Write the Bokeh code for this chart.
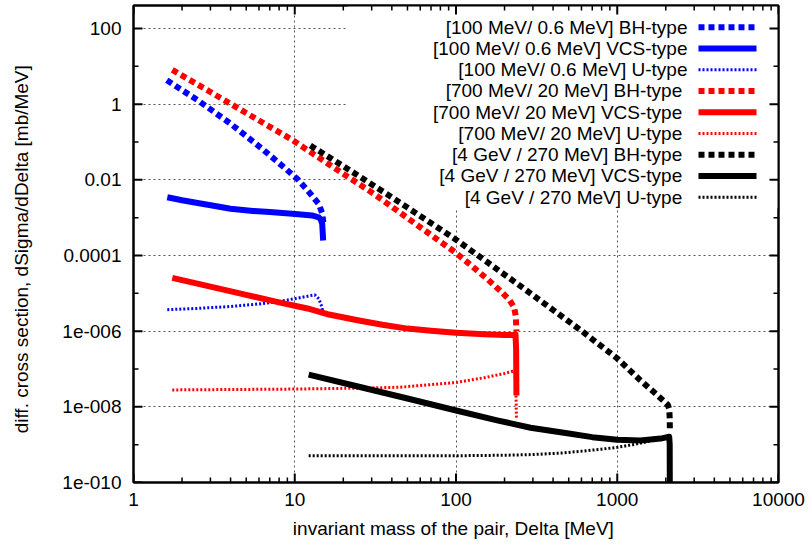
import math
import numpy as np
from bokeh.plotting import figure
from bokeh.models import (FixedTicker, LogAxis, CustomJSTickFormatter, Label, Arrow,
                          BoxAnnotation, Range1d)
from bokeh.embed import file_html
from bokeh.resources import INLINE

# ---------------- data ----------------
blue_bh_x = [1.61, 2.51, 3.98, 6.31, 8.91, 10.5, 12.5, 14.1, 14.8, 15.05]
blue_bh_y = [4.3, 1.26, 0.31, 0.065, 0.0186, 0.010, 0.0043, 0.0023, 1.3e-3, 7.5e-4]

blue_vcs_x = [1.62, 2.0, 2.5, 3.2, 4.0, 5.5, 7.0, 10.1, 12.8, 14.1, 14.5, 14.8, 15.0]
blue_vcs_y = [3.47e-3, 2.88e-3, 2.45e-3, 2.04e-3, 1.72e-3, 1.51e-3, 1.41e-3, 1.26e-3,
              1.15e-3, 1.02e-3, 8.9e-4, 6.9e-4, 2.5e-4]

blue_u_x = [1.62, 2.5, 4.0, 6.0, 8.2, 11.0, 12.5, 13.3, 14.1, 14.7, 15.1]
blue_u_y = [3.7e-6, 4.0e-6, 4.5e-6, 5.25e-6, 6.2e-6, 7.8e-6, 8.7e-6, 9.1e-6, 7.2e-6, 4.5e-6, 2.6e-6]

red_bh_x = [1.74, 3.0, 5.0, 9.4, 17, 30.9, 60, 100, 126, 158, 190, 214, 229, 235, 237]
red_bh_y = [8.1, 2.1, 0.585, 0.122, 0.0229, 4.3e-3, 5.6e-4, 1.17e-4, 5.2e-5, 2.3e-5,
            1.12e-5, 6.8e-6, 4.3e-6, 2.5e-6, 1.0e-6]

red_vcs_x = [1.74, 3.0, 5.0, 8.0, 12.0, 16.3, 25, 35, 50, 70, 100, 150, 200, 228, 234, 236, 237]
red_vcs_y = [2.57e-5, 1.51e-5, 9.1e-6, 5.75e-6, 3.98e-6, 2.75e-6, 1.91e-6, 1.48e-6, 1.17e-6,
             1.02e-6, 9.1e-7, 8.3e-7, 7.9e-7, 7.9e-7, 8.3e-7, 3.2e-7, 2.0e-8]

red_u_x = [1.74, 10, 30, 45, 100, 150, 200, 225, 232, 235, 237]
red_u_y = [2.8e-8, 2.95e-8, 3.16e-8, 3.3e-8, 4.4e-8, 5.9e-8, 7.6e-8, 8.7e-8, 8.5e-8, 4e-8, 4.8e-9]

black_bh_x = [12.5, 24.4, 50, 101.7, 263, 604, 1000, 1393, 1686, 1950, 2060, 2100, 2115, 2120]
black_bh_y = [0.081, 0.0135, 1.86e-3, 2.5e-4, 1.35e-5, 1.0e-6, 1.9e-7, 5.0e-8, 2.45e-8,
              1.4e-8, 1.12e-8, 8.9e-9, 5e-9, 2.3e-9]

black_vcs_x = [12.2, 25, 50, 101.7, 180, 290, 489, 700, 1000, 1393, 1860, 2040, 2100, 2115, 2120]
black_vcs_y = [7.1e-8, 3.39e-8, 1.66e-8, 7.9e-9, 4.4e-9, 2.8e-9, 2.0e-9, 1.58e-9, 1.35e-9,
               1.29e-9, 1.45e-9, 1.58e-9, 1.62e-9, 1e-9, 1e-11]

black_u_x = [12.2, 100, 200, 304, 450, 620, 800, 1000, 1250, 1500, 1700, 1854, 2040, 2100, 2115, 2120]
black_u_y = [5.1e-10, 5.1e-10, 5.25e-10, 5.5e-10, 6.0e-10, 6.8e-10, 7.6e-10, 8.5e-10, 1.0e-9,
             1.17e-9, 1.35e-9, 1.51e-9, 1.58e-9, 1.51e-9, 1e-9, 1e-11]

legend_labels = [
    "[100 MeV/ 0.6 MeV] BH-type",
    "[100 MeV/ 0.6 MeV] VCS-type",
    "[100 MeV/ 0.6 MeV] U-type",
    "[700 MeV/ 20  MeV] BH-type",
    "[700 MeV/ 20  MeV] VCS-type",
    "[700 MeV/ 20  MeV] U-type",
    "[4 GeV / 270  MeV] BH-type",
    "[4 GeV / 270  MeV] VCS-type",
    "[4 GeV / 270  MeV] U-type",
]

x_ticks = [1, 10, 100, 1000, 10000]
x_tick_labels = ["1", "10", "100", "1000", "10000"]
y_ticks = [1e-10, 1e-8, 1e-6, 1e-4, 1e-2, 1, 100]
y_tick_labels = ["1e-010", "1e-008", "1e-006", "0.0001", "0.01", "1", "100"]

x_label = "invariant mass of the pair,  Delta [MeV]"
y_label = "diff. cross section,  dSigma/dDelta  [mb/MeV]"

# ---------------- styling ----------------
FONT = "Liberation Sans"
FS = "19px"
BLUE, RED, BLACK = "#0000ff", "#ff0000", "#000000"
BH = dict(line_width=6, line_dash="6 4")
VCS = dict(line_width=6, line_dash="solid")
UT = dict(line_width=3, line_dash="2 2")

series = [
    (blue_bh_x, blue_bh_y, BLUE, BH), (blue_vcs_x, blue_vcs_y, BLUE, VCS), (blue_u_x, blue_u_y, BLUE, UT),
    (red_bh_x, red_bh_y, RED, BH), (red_vcs_x, red_vcs_y, RED, VCS), (red_u_x, red_u_y, RED, UT),
    (black_bh_x, black_bh_y, BLACK, BH), (black_vcs_x, black_vcs_y, BLACK, VCS), (black_u_x, black_u_y, BLACK, UT),
]

# frame geometry (canvas pixels): left 133, right 778, top 5, bottom 482
W, H = 810, 544
FL, FR, FT, FB = 133, 778, 5, 482
PX_DEC_X = (FR - FL) / 4.0
PX_DEC_Y = 37.83
y_top = 10 ** ((FB - FT) / PX_DEC_Y - 10)
x_lo, x_hi, y_lo = 1, 10000, 1e-10
TICK_MAJ, TICK_MIN = 9, 5


def px_x(px):
    return 10 ** ((px - FL) / PX_DEC_X)


def px_y(py):
    return 10 ** ((FB - py) / PX_DEC_Y - 10)


p = figure(width=W, height=H, x_axis_type="log", y_axis_type="log",
           x_range=Range1d(x_lo, x_hi), y_range=Range1d(y_lo, y_top),
           output_backend="svg", toolbar_location=None,
           min_border_left=FL, min_border_right=W - FR,
           min_border_top=FT, min_border_bottom=H - FB)
p.outline_line_color = "black"
p.outline_line_width = 2
p.background_fill_color = "white"
p.border_fill_color = "white"

fmt_code = """
for (let i = 0; i < vals.length; i++) {
  if (Math.abs(Math.log10(tick) - Math.log10(vals[i])) < 1e-6) return labs[i];
}
return "";
"""
x_minor = [k * 10 ** d for d in range(0, 4) for k in range(2, 10)]
y_minor = [1e-9, 1e-7, 1e-5, 1e-3, 1e-1, 10]
xticker = FixedTicker(ticks=x_ticks, minor_ticks=x_minor)
yticker = FixedTicker(ticks=y_ticks, minor_ticks=y_minor)


def style_axis(ax, ticker, labels=None, vals=None):
    ax.ticker = ticker
    ax.axis_line_width = 2
    ax.axis_line_color = "black"
    # tick marks are drawn inside the frame below
    ax.major_tick_in = 0
    ax.major_tick_out = 0
    ax.minor_tick_in = 0
    ax.minor_tick_out = 0
    if labels is not None:
        ax.formatter = CustomJSTickFormatter(args=dict(vals=vals, labs=labels), code=fmt_code)
        ax.major_label_text_font = FONT
        ax.major_label_text_font_size = FS
        ax.major_label_text_color = "black"
    else:
        ax.formatter = CustomJSTickFormatter(code="return '';")
        ax.major_label_text_font_size = "0px"
        ax.major_label_standoff = 0


xa = p.xaxis[0]
ya = p.yaxis[0]
style_axis(xa, xticker, x_tick_labels, x_ticks)
style_axis(ya, yticker, y_tick_labels, y_ticks)
xa.major_label_standoff = 10
ya.major_label_standoff = 12
xa.axis_label = x_label
ya.axis_label = y_label
for ax in (xa, ya):
    ax.axis_label_text_font = FONT
    ax.axis_label_text_font_size = FS
    ax.axis_label_text_font_style = "normal"
    ax.axis_label_text_color = "black"
xa.axis_label_standoff = 9
ya.axis_label_standoff = 27

top_ax = LogAxis()
right_ax = LogAxis()
style_axis(top_ax, xticker)
style_axis(right_ax, yticker)
p.add_layout(top_ax, "above")
p.add_layout(right_ax, "right")

for g in (p.xgrid[0], p.ygrid[0]):
    g.grid_line_color = "#555555"
    g.grid_line_width = 1
    g.grid_line_dash = "2 3"
p.xgrid[0].ticker = xticker
p.ygrid[0].ticker = yticker

# opaque key background (hides grid lines only)
key_bg = BoxAnnotation(left=px_x(347), right=x_hi, top=y_top, bottom=px_y(208),
                       fill_color="white", fill_alpha=1.0, line_alpha=0, level="underlay")
p.add_layout(key_bg)

for xs, ys, color, st in series:
    p.line(xs, ys, line_color=color, line_cap="butt", line_join="round", **st)

# inward tick marks on all four sides (gnuplot style, mirrored), at the tick values
for ticks, L, lw in ((x_ticks, TICK_MAJ, 2), (x_minor, TICK_MIN, 1.5)):
    n = len(ticks)
    p.segment(ticks, [y_lo] * n, ticks, [px_y(FB - L)] * n, line_color="black", line_width=lw)
    p.segment(ticks, [y_top] * n, ticks, [px_y(FT + L)] * n, line_color="black", line_width=lw)
for ticks, L, lw in ((y_ticks, TICK_MAJ, 2), (y_minor, TICK_MIN, 1.5)):
    n = len(ticks)
    p.segment([x_lo] * n, ticks, [px_x(FL + L)] * n, ticks, line_color="black", line_width=lw)
    p.segment([x_hi] * n, ticks, [px_x(FR - L)] * n, ticks, line_color="black", line_width=lw)

# key
row0, drow = 26.7, 21.25
for i, (lab, (_, _, color, st)) in enumerate(zip(legend_labels, series)):
    ry = row0 + i * drow
    p.add_layout(Label(x=px_x(687), y=px_y(ry), text=lab, text_align="right",
                       text_baseline="middle", text_font=FONT, text_font_size=FS,
                       text_color="black"))
    p.add_layout(Arrow(end=None, x_start=px_x(698), y_start=px_y(ry), x_end=px_x(756),
                       y_end=px_y(ry), line_color=color, line_width=st["line_width"],
                       line_dash=st["line_dash"], line_cap="butt"))

open("out.html", "w").write(file_html(p, INLINE))
